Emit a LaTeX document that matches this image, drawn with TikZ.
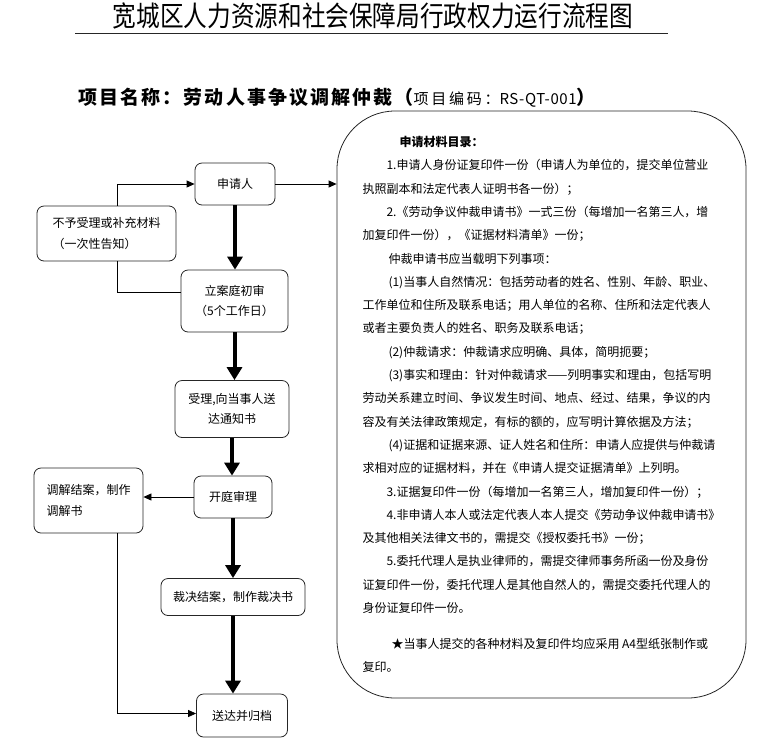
\documentclass[tikz,border=0pt]{standalone}
\usepackage{fontspec}
\setmainfont{Noto Sans CJK SC}
\usetikzlibrary{arrows.meta}

\begin{document}
\begin{tikzpicture}[x=1pt, y=-1pt,
  flowbox/.style={draw=black!85, line width=0.8pt, rounded corners=7pt,
    inner sep=2pt, align=center, font=\fontsize{12}{20.5}\selectfont},
  bigarrow/.style={line width=4pt, draw=black, fill=black, -{Triangle[width=15pt, length=13pt]}},
  thinarrow/.style={-{Triangle[width=7pt, length=8pt]}},
  every path/.style={line width=0.8pt}]
  \useasboundingbox (0,0) rectangle (761,748);

  % 1. heading
  \node (title) at (373,16) {\scalebox{0.845}[1]{\fontsize{28}{30}\selectfont
    宽城区人力资源和社会保障局行政权力运行流程图}};
  \draw[black!85] (75,33) -- (668,33);
  \node[anchor=west, inner sep=0pt] (project) at (78,98) {\bfseries\fontsize{19}{20}\selectfont
    \addfontfeature{LetterSpace=11}项目名称：劳动人事争议调解仲裁（%
    {\mdseries\fontsize{15}{16}\selectfont\addfontfeature{LetterSpace=18}项目编码：%
    \addfontfeature{LetterSpace=4}RS-QT-001}）};

  % 2. flow steps
  \node[flowbox, minimum width=80pt, minimum height=42pt] (apply) at (235,184) {申请人};
  \node[flowbox, align=left, minimum width=139pt, minimum height=55pt] (refuse) at (106.5,233.5)
    {不予受理或补充材料\\（一次性告知）};
  \node[flowbox, minimum width=107pt, minimum height=62pt] (review) at (234.5,301)
    {立案庭初审\\（5个工作日）};
  \node[flowbox, minimum width=114pt, minimum height=57pt] (accept) at (232,409)
    {受理,向当事人送\\达通知书};
  \node[flowbox, minimum width=78pt, minimum height=42pt] (hearing) at (233,497) {开庭审理};
  \node[flowbox, align=left, minimum width=109pt, minimum height=65pt] (mediate) at (88.5,500.5)
    {调解结案，制作\\调解书};
  \node[flowbox, minimum width=144pt, minimum height=37pt] (verdict) at (233,597)
    {裁决结案，制作裁决书};
  \node[flowbox, minimum width=91pt, minimum height=43pt] (archive) at (242,715.5) {送达并归档};

  % 3. list of materials
  \node[draw=black!85, rounded corners=58pt, minimum width=409pt, minimum height=587pt,
    align=left, inner sep=0pt, font=\fontsize{12}{23.3}\selectfont] (materials) at (541.5,404.5) {%
    \hspace*{37pt}\textbf{申请材料目录：}\\
    \hspace*{24pt}1.申请人身份证复印件一份（申请人为单位的，提交单位营业\\
    执照副本和法定代表人证明书各一份）；\\
    \hspace*{24pt}2.《劳动争议仲裁申请书》一式三份（每增加一名第三人，增\\
    加复印件一份），《证据材料清单》一份；\\
    \hspace*{26pt}仲裁申请书应当载明下列事项：\\
    \hspace*{26pt}(1)当事人自然情况：包括劳动者的姓名、性别、年龄、职业、\\
    工作单位和住所及联系电话；用人单位的名称、住所和法定代表人\\
    或者主要负责人的姓名、职务及联系电话；\\
    \hspace*{26pt}(2)仲裁请求：仲裁请求应明确、具体，简明扼要；\\
    \hspace*{26pt}(3)事实和理由：针对仲裁请求——列明事实和理由，包括写明\\
    劳动关系建立时间、争议发生时间、地点、经过、结果，争议的内\\
    容及有关法律政策规定，有标的额的，应写明计算依据及方法；\\
    \hspace*{26pt}(4)证据和证据来源、证人姓名和住所：申请人应提供与仲裁请\\
    求相对应的证据材料，并在《申请人提交证据清单》上列明。\\
    \hspace*{24pt}3.证据复印件一份（每增加一名第三人，增加复印件一份）；\\
    \hspace*{24pt}4.非申请人本人或法定代表人本人提交《劳动争议仲裁申请书》\\
    及其他相关法律文书的，需提交《授权委托书》一份；\\
    \hspace*{24pt}5.委托代理人是执业律师的，需提交律师事务所函一份及身份\\
    证复印件一份，委托代理人是其他自然人的，需提交委托代理人的\\
    身份证复印件一份。\\[12.7pt]
    \hspace*{29pt}★当事人提交的各种材料及复印件均应采用 A4型纸张制作或\\
    复印。};

  % 4. connectors
  \draw[thinarrow] (apply.east) -- (apply.east -| materials.west);
  \draw[thinarrow] ([xshift=10.5pt]refuse.north) |- (apply.west);
  \draw ([xshift=10.5pt]refuse.south) |- ([yshift=9pt]review.west);
  \draw[thinarrow] (hearing.west) -- (hearing.west -| mediate.east);
  \draw[thinarrow] ([xshift=28.5pt]mediate.south) |- ([yshift=2pt]archive.west);
  \foreach \a/\b in {apply/review, review/accept, accept/hearing, hearing/verdict, verdict/archive}
    \draw[bigarrow] (\a.south) -- (\a.south |- \b.north);
\end{tikzpicture}
\end{document}
